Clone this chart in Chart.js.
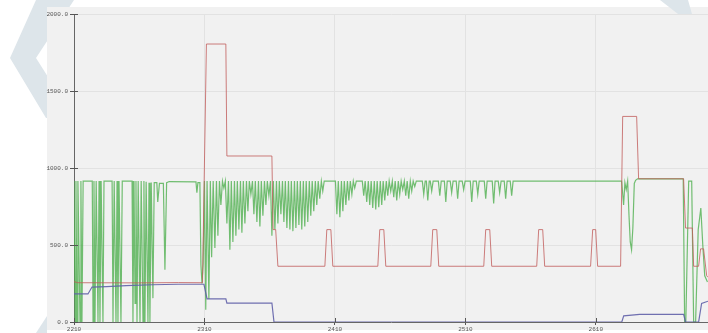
<!DOCTYPE html>
<html>
<head>
<meta charset="utf-8">
<script src="https://cdn.jsdelivr.net/npm/chart.js@4"></script>
<style>
  html, body { margin:0; padding:0; background:#fff; }
  canvas { display:block; }
</style>
</head>
<body>
<canvas id="chart" width="708" height="333"></canvas>
<script>
// ============ data ============
const X_TICKS = [2210, 2310, 2410, 2510, 2610];
const Y_TICKS = [0, 500, 1000, 1500, 2000];
const X_MIN = 2210, X_MAX = 2696;

// red series (step-like)
const RED = [
  [2210,262],[2213,255],[2260,254],[2290,256],[2308.5,255],[2311.5,1805],[2326.4,1805],[2327.2,1078],
  [2361.7,1078],[2362.6,600],[2364.6,600],[2366.3,362],
  [2402.3,362],[2403.8,600],[2406.9,600],[2408.4,362],
  [2442.9,362],[2444.4,600],[2447.5,600],[2449,362],
  [2483.5,362],[2485,600],[2488.1,600],[2489.6,362],
  [2524.1,362],[2525.6,600],[2528.7,600],[2530.2,362],
  [2564.7,362],[2566.2,600],[2569.3,600],[2570.8,362],
  [2606,362],[2607.6,600],[2609.9,600],[2611.4,362],
  [2629,362],[2630.6,1335],[2641.3,1335],[2642.8,930],[2677.3,930],[2678.8,610],[2684,610],
  [2685,362],[2688.8,362],[2690.3,475],[2692.6,475],[2695,300],[2696,290]
];

// blue series
const BLUE = [
  [2210,182],[2220.7,182],[2223.8,227],[2235,230],[2250,236],[2270,242],[2290,245],[2309.6,245],
  [2312,150],[2326.4,150],[2327.2,123],[2361.7,123],[2363.3,0],[2629.9,0],[2631.4,40],[2643.6,50],
  [2677.3,50],[2678.8,0],[2688.8,0],[2691.1,120],[2696,135]
];

// green series (noisy)
const GREEN = [
  [2210,915],[2210.8,0],[2211.5,915],[2212.3,0],[2213,915],[2214.6,0],[2215.3,915],[2216.1,0],[2217,915],
  [2224,915],[2224.6,0],[2225.3,915],[2226.1,0],[2227,915],[2228.4,0],[2229.2,915],[2229.9,0],[2230.8,915],[2232.2,0],[2233,915],
  [2239.2,915],[2239.9,0],[2240.8,915],[2242.2,0],[2243,915],[2243.7,0],[2244.5,915],[2246,0],[2247,915],
  [2254.5,915],[2255.2,0],[2256,915],[2256.8,120],[2257.5,915],[2258.3,0],[2259.2,915],[2260.6,0],[2261.5,915],[2262.9,0],
  [2263.6,915],[2264.4,0],[2265.3,910],[2266.7,0],[2267.5,905],[2268.2,0],[2269.2,905],[2270.5,155],[2271.5,905],
  [2273.5,905],[2274.2,780],[2275.5,900],[2278.5,900],[2279.7,340],[2281,905],[2283,912],[2303.5,910],[2304.2,840],[2305,905],
  [2306.5,905],[2307.3,370],[2308.1,250],[2309,380],[2310,915],[2311,80],[2312,915],[2313.4,150],[2314.5,915],[2315.5,420],[2316.7,915],
  [2318,480],[2319.2,915],[2320.3,560],[2321.5,915],[2322.6,760],[2323.8,915],[2324.9,870],[2326,915],[2327.2,640],[2328.4,915],
  [2329.5,470],[2330.6,915],[2331.8,520],[2333,915],[2334.1,560],[2335.2,915],[2336.4,600],[2337.6,915],[2338.7,580],[2339.8,915],
  [2341,640],[2342.2,915],[2343.3,720],[2344.4,915],[2345.6,830],[2346.8,915],[2347.9,700],[2349,915],[2350.2,650],[2351.4,915],
  [2352.5,620],[2353.6,915],[2354.8,690],[2356,915],[2357.1,760],[2358.2,915],[2359.4,820],[2360.6,915],[2361.7,560],[2362.8,915],
  [2364,600],[2365.2,915],[2366.3,640],[2367.4,915],[2368.6,700],[2369.8,915],[2370.9,650],[2372,915],[2373.2,610],[2374.4,915],
  [2375.5,600],[2376.6,915],[2377.8,590],[2379,915],[2380.1,610],[2381.2,915],[2382.4,630],[2383.5,915],[2384.6,600],[2385.8,915],
  [2386.9,620],[2388,915],[2389.2,650],[2390.4,915],[2391.5,690],[2392.6,915],[2393.8,720],[2395,915],[2396.1,760],[2397.2,915],
  [2398.4,800],[2399.6,915],[2400.7,850],[2401.8,915],
  [2410.4,915],[2411.5,700],[2412.6,915],[2413.8,680],[2415,915],[2416.1,720],[2417.2,915],[2418.4,760],[2419.6,915],
  [2420.7,790],[2421.8,915],[2423,830],[2424.1,915],[2425.2,870],[2426.4,915],
  [2431,915],[2432.1,820],[2433.2,915],[2434.4,780],[2435.6,915],[2436.7,760],[2437.8,915],[2439,740],[2440.2,915],
  [2441.3,730],[2442.4,915],[2443.6,745],[2444.8,915],[2445.9,760],[2447,915],[2448.2,790],[2449.4,915],[2450.5,820],[2451.6,915],
  [2452.8,850],[2454,915],[2455.1,810],[2456.2,915],[2457.4,790],[2458.6,915],[2459.7,830],[2460.8,915],[2462,860],[2463.2,915],
  [2464.3,820],[2465.4,915],[2466.6,800],[2467.8,915],[2468.9,850],[2470,915],[2471.2,880],[2472.4,915],
  [2477,915],[2478.1,830],[2479.2,915],[2480.1,915],[2481.2,790],[2482.3,915],[2483.1,915],[2484.2,850],[2485.3,915],
  [2489.3,915],[2490.4,820],[2491.5,915],[2493.9,915],[2495,780],[2496.1,915],[2498.4,915],[2499.5,840],[2500.6,915],
  [2503,915],[2504.1,800],[2505.2,915],[2507.6,915],[2508.7,860],[2509.8,915],[2513.8,915],[2514.9,780],[2516,915],
  [2518.4,915],[2519.5,830],[2520.6,915],[2524.5,915],[2525.6,800],[2526.7,915],[2530.6,915],[2531.7,770],[2532.8,915],
  [2535.2,915],[2536.3,840],[2537.4,915],[2539.8,915],[2540.9,800],[2542,915],[2544.4,915],[2545.5,820],[2546.6,915],
  [2629.8,915],[2631.3,760],[2632.3,905],[2633.3,860],[2634.4,915],[2635.4,700],[2636.4,520],[2637.4,470],[2638.4,610],
  [2639.5,900],[2640.5,920],[2642,930],[2677,930],[2678.1,0],[2679,0],[2681.2,915],[2683.5,915],[2685,0],[2686.5,0],
  [2688.5,600],[2690.5,740],[2692,500],[2693.5,300],[2695.6,260]
];

const toXY = arr => arr.map(p => ({x: p[0], y: p[1]}));
const FONT = {family: 'Liberation Mono', size: 6};

// page background + watermark + grey panel
const backdrop = {
  id: 'backdrop',
  beforeDraw(chart) {
    const c = chart.ctx;
    c.save();
    c.fillStyle = '#ffffff';
    c.fillRect(0, 0, chart.width, chart.height);
    c.fillStyle = '#dde5ea';
    c.beginPath();
    c.moveTo(36,0); c.lineTo(74,0); c.lineTo(36,58); c.lineTo(74,118); c.lineTo(46,118); c.lineTo(10,58);
    c.closePath(); c.fill();
    c.beginPath();
    c.moveTo(36,333); c.lineTo(47,316); c.lineTo(47,333); c.closePath(); c.fill();
    c.fillStyle = '#f1f1f1';
    c.fillRect(47, 7, 661, 323);
    c.fillStyle = '#dde5ea';
    c.beginPath();
    c.moveTo(660,0); c.lineTo(688,0); c.lineTo(692,14); c.lineTo(678,14); c.closePath(); c.fill();
    c.restore();
  },
  afterDraw(chart) {
    // inner halves of the "+" tick marks
    const c = chart.ctx, a = chart.chartArea;
    const xs = chart.scales.x, ys = chart.scales.y;
    c.save();
    c.strokeStyle = '#555'; c.lineWidth = 1;
    c.beginPath();
    Y_TICKS.forEach(v => { const y = Math.round(ys.getPixelForValue(v)) + 0.5; c.moveTo(a.left, y); c.lineTo(a.left + 4, y); });
    X_TICKS.forEach(v => { const x = Math.round(xs.getPixelForValue(v)) + 0.5; c.moveTo(x, a.bottom); c.lineTo(x, a.bottom - 4); });
    c.stroke();
    c.restore();
  }
};

new Chart(document.getElementById('chart'), {
  type: 'line',
  data: {
    datasets: [
      {data: toXY(RED), borderColor: 'rgba(192,90,88,0.78)', borderWidth: 1},
      {data: toXY(BLUE), borderColor: 'rgba(96,96,168,0.9)', borderWidth: 1.2},
      {data: toXY(GREEN), borderColor: 'rgba(80,176,80,0.8)', borderWidth: 1.2}
    ]
  },
  options: {
    responsive: false,
    animation: false,
    devicePixelRatio: 1,
    layout: {padding: {left: 0, top: 14, right: 0, bottom: 0}},
    elements: {point: {radius: 0}, line: {tension: 0}},
    plugins: {legend: {display: false}, tooltip: {enabled: false}},
    scales: {
      x: {
        type: 'linear', min: X_MIN, max: X_MAX,
        afterBuildTicks: s => { s.ticks = X_TICKS.map(v => ({value: v})); },
        afterFit: s => { s.height = 11; },
        ticks: {font: FONT, color: '#555', maxRotation: 0, padding: 1, callback: v => String(v)},
        grid: {color: '#e2e2e2', tickColor: '#555', tickLength: 3},
        border: {color: '#666'}
      },
      y: {
        min: 0, max: 2000,
        afterBuildTicks: s => { s.ticks = Y_TICKS.map(v => ({value: v})); },
        afterFit: s => { s.width = 74; },
        ticks: {font: FONT, color: '#555', padding: 2, callback: v => v.toFixed(1)},
        grid: {color: '#e2e2e2', tickColor: '#555', tickLength: 4},
        border: {color: '#666'}
      }
    }
  },
  plugins: [backdrop]
});
</script>
</body>
</html>
